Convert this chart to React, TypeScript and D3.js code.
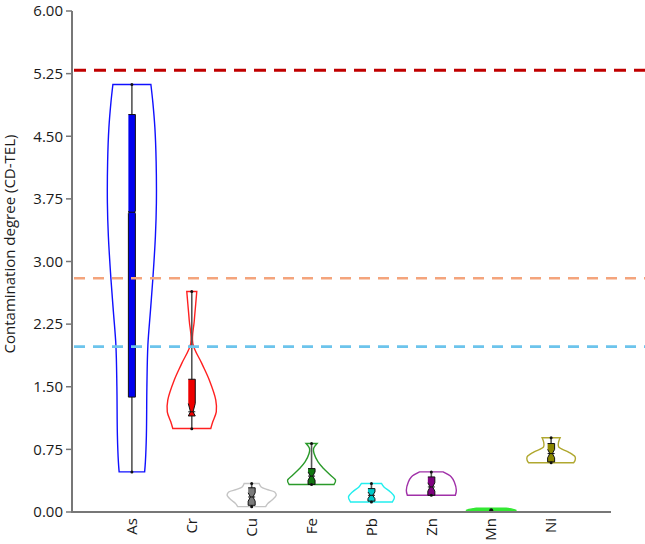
import * as d3 from "d3";

const elements = ["As", "Cr", "Cu", "Fe", "Pb", "Zn", "Mn", "Ni"];
const strokeColors = ["#1010ff", "#ff2020", "#c4c4c4", "#2a9a2a", "#22eeee", "#a030a8", "#33e833", "#b0a830"];
const boxColors = ["#0000ee", "#ee0000", "#7a7a7a", "#117711", "#00c8c8", "#800080", "#22cc22", "#8a8600"];

// kernel density profiles: value levels and relative half-widths
const levels = [
  [0.48, 0.6, 0.92, 1.5, 2.0, 2.4, 2.8, 3.3, 3.7, 4.2, 4.6, 4.9, 5.12],
  [1.0, 1.08, 1.2, 1.34, 1.58, 1.78, 2.02, 2.29, 2.5, 2.64],
  [0.064, 0.1, 0.14, 0.2, 0.24, 0.27, 0.3, 0.342],
  [0.33, 0.38, 0.44, 0.52, 0.6, 0.7, 0.76, 0.82],
  [0.12, 0.18, 0.24, 0.3, 0.342],
  [0.2, 0.26, 0.36, 0.42, 0.48],
  [0.0, 0.02, 0.045],
  [0.59, 0.62, 0.66, 0.72, 0.78, 0.84, 0.89],
];
const densities = [
  [0.51, 0.54, 0.58, 0.6, 0.64, 0.74, 0.84, 0.94, 0.98, 0.97, 0.92, 0.84, 0.76],
  [0.76, 0.84, 0.98, 0.96, 0.7, 0.4, 0.04, 0.1, 0.16, 0.2],
  [0.56, 0.64, 0.8, 0.98, 0.92, 0.6, 0.38, 0.3],
  [0.9, 0.96, 0.76, 0.48, 0.26, 0.1, 0.08, 0.22],
  [0.84, 0.92, 0.76, 0.5, 0.4],
  [0.96, 1.0, 0.92, 0.8, 0.47],
  [0.7, 1.0, 0.6],
  [0.9, 0.96, 0.96, 0.68, 0.3, 0.3, 0.36],
];

// box plot statistics
const mins = [0.48, 0.998, 0.064, 0.33, 0.12, 0.2, 0.02, 0.59];
const q1s = [1.376, 1.15, 0.08, 0.33, 0.13, 0.2, 0.02, 0.6];
const medians = [3.59, 1.2, 0.18, 0.43, 0.2, 0.3, 0.02, 0.7];
const q3s = [4.76, 1.59, 0.29, 0.52, 0.28, 0.42, 0.02, 0.82];
const maxs = [5.12, 2.64, 0.342, 0.82, 0.342, 0.48, 0.02, 0.89];
const notches = [0.015, 0.1, 0.05, 0.05, 0.04, 0.05, 0, 0.05];

const yTicks = [0, 0.75, 1.5, 2.25, 3.0, 3.75, 4.5, 5.25, 6.0];
const thresholds = [5.29, 2.8, 1.98];
const thresholdColors = ["#c00000", "#f4a47c", "#6cc4ec"];

const width = 645;
const height = 544;
const left = 72;
const top = 11;
const bottom = 512;
const axisRight = 611;

const y = d3.scaleLinear().domain([0, 6]).range([bottom, top]);
const x = d3.scalePoint<string>().domain(elements).range([left, axisRight]).padding(1);
const w = d3.scaleLinear().domain([0, 1]).range([0, 25]);

const font = "'Open Sans', 'Noto Sans', sans-serif";

export default function App() {
  return (
    <svg width={width} height={height} style={{ position: "absolute", left: 0, top: 0 }}>
      <rect width={width} height={height} fill="white" />
      {elements.map((el, i) => {
        const cx = x(el) as number;
        const pts = levels[i].map((v, j) => [v, densities[i][j]] as [number, number]);
        const area = d3
          .area<[number, number]>()
          .y((d) => y(d[0]))
          .x0((d) => cx - w(d[1]))
          .x1((d) => cx + w(d[1]))
          .curve(d3.curveCatmullRom);
        const isMn = el === "Mn";
        const bw = 3.5;
        const q1 = y(q1s[i]);
        const q3 = y(q3s[i]);
        const md = y(medians[i]);
        const nTop = Math.max(q3, y(medians[i] + notches[i]));
        const nBot = Math.min(q1, y(medians[i] - notches[i]));
        const inner = notches[i] < 0.02 ? bw - 0.8 : 1.3;
        const box = [
          [cx - bw, q3],
          [cx + bw, q3],
          [cx + bw, nTop],
          [cx + inner, md],
          [cx + bw, nBot],
          [cx + bw, q1],
          [cx - bw, q1],
          [cx - bw, nBot],
          [cx - inner, md],
          [cx - bw, nTop],
        ] as [number, number][];
        return (
          <g key={el}>
            <path
              d={area(pts) as string}
              fill={isMn ? strokeColors[i] : "none"}
              stroke={strokeColors[i]}
              strokeWidth={1.4}
            />
            {!isMn && (
              <>
                <line x1={cx} x2={cx} y1={y(mins[i])} y2={y(maxs[i])} stroke="#555" strokeWidth={1.6} />
                <path d={d3.line()(box) as string} fill={boxColors[i]} stroke="#111" strokeWidth={1} />
                <line x1={cx - bw} x2={cx + bw} y1={md} y2={md} stroke="#111" strokeWidth={1} />
                <circle cx={cx} cy={y(mins[i])} r={1.5} fill="#111" />
                <circle cx={cx} cy={y(maxs[i])} r={1.5} fill="#111" />
              </>
            )}
            {isMn && <circle cx={cx} cy={y(medians[i])} r={2} fill="#111" />}
            <text
              transform={`translate(${cx},518) rotate(-90)`}
              textAnchor="end"
              dy="0.35em"
              fontFamily={font}
              fontSize={15}
              fill="#1a1a1a"
            >
              {el}
            </text>
          </g>
        );
      })}
      {thresholds.map((t, i) => (
        <line
          key={i}
          x1={left + 2}
          x2={width}
          y1={y(t)}
          y2={y(t)}
          stroke={thresholdColors[i]}
          strokeWidth={i === 0 ? 3 : 2.6}
          strokeDasharray={i === 0 ? "12 8" : "11 8"}
        />
      ))}
      <line x1={left} x2={left} y1={top} y2={bottom} stroke="#777" strokeWidth={2} />
      <line x1={left - 1} x2={axisRight} y1={bottom} y2={bottom} stroke="#777" strokeWidth={2.2} />
      {yTicks.map((t) => (
        <g key={t} transform={`translate(0,${y(t)})`}>
          <line x1={left - 6} x2={left} stroke="#777" strokeWidth={1.5} />
          <text x={left - 9} dy="0.35em" textAnchor="end" fontFamily={font} fontSize={15} fill="#1a1a1a">
            {t.toFixed(2)}
          </text>
        </g>
      ))}
      <text
        transform={`translate(10,244) rotate(-90)`}
        textAnchor="middle"
        dy="0.35em"
        fontFamily={font}
        fontSize={15}
        fill="#1a1a1a"
      >
        Contamination degree (CD-TEL)
      </text>
    </svg>
  );
}
